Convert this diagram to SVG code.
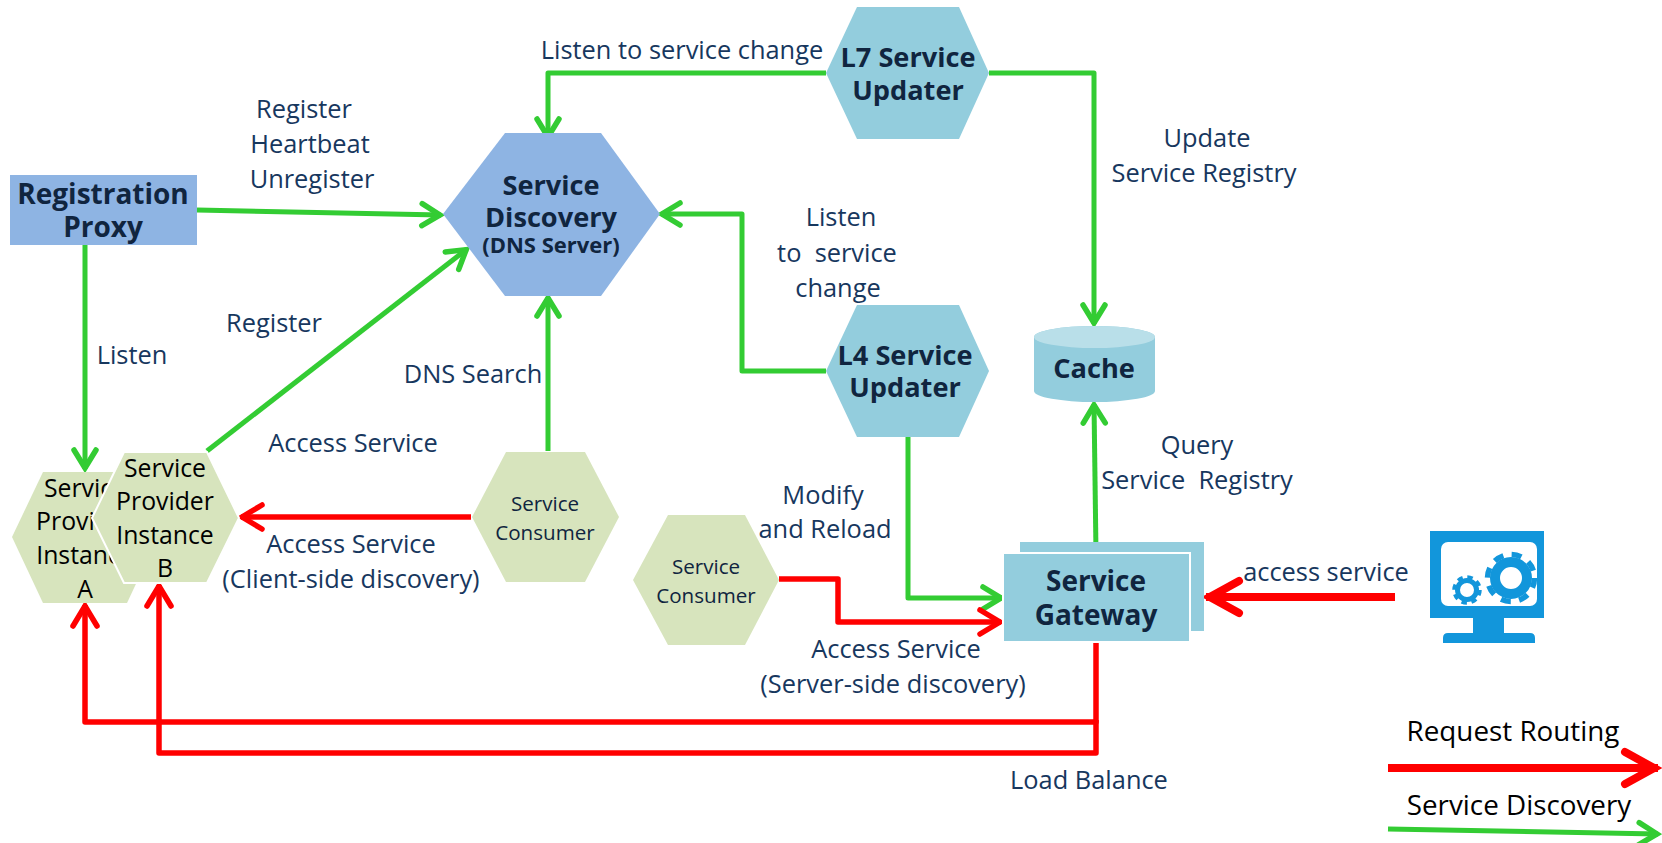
<svg xmlns="http://www.w3.org/2000/svg" width="1662" height="843" viewBox="0 0 1662 843">
<style>
text{font-family:"Open Sans","Noto Sans","DejaVu Sans",sans-serif;text-anchor:middle;white-space:pre}
.l{font-size:25.4px;fill:#17375e}
.k{font-size:24.8px;fill:#000}
.m{font-size:27.8px;fill:#000}
.b{font-size:28px;font-weight:700;fill:#10253f}
.h{font-size:27.2px;font-weight:700;fill:#10253f}
.c{font-size:20.6px;fill:#10253f}
.g{fill:none;stroke:#33cc33;stroke-width:5;stroke-linejoin:round}
.r{fill:none;stroke:#ff0000;stroke-width:5.500;stroke-linejoin:round}
.blue{fill:#8eb4e3}
.teal{fill:#93cddd}
.sage{fill:#d7e4bd}
</style>
<defs>
<marker id="ag" markerUnits="userSpaceOnUse" markerWidth="30" markerHeight="30" refX="26" refY="15" orient="auto"><path d="M7 4L25 15L7 26" fill="none" stroke="#33cc33" stroke-width="5.500" stroke-linecap="round"/></marker>
<marker id="ar" markerUnits="userSpaceOnUse" markerWidth="30" markerHeight="32" refX="27" refY="16" orient="auto"><path d="M6 4L26 16L6 28" fill="none" stroke="#ff0000" stroke-width="5.500" stroke-linecap="round"/></marker>
<marker id="arb" markerUnits="userSpaceOnUse" markerWidth="44" markerHeight="48" refX="40" refY="24" orient="auto"><path d="M7 8L36 24L7 40" fill="none" stroke="#ff0000" stroke-width="8" stroke-linecap="round"/></marker>
</defs>

<g id="connectors">
<path class="g" marker-end="url(#ag)" d="M197 210L441 215"/>
<path class="g" marker-end="url(#ag)" d="M85 245V469"/>
<path class="g" marker-end="url(#ag)" d="M207 451L467 249"/>
<path class="g" marker-end="url(#ag)" d="M548 451V297"/>
<path class="g" marker-end="url(#ag)" d="M826 73H548V138"/>
<path class="g" marker-end="url(#ag)" d="M989 73H1094V324"/>
<path class="g" marker-end="url(#ag)" d="M826 371H742V214H661"/>
<path class="g" marker-end="url(#ag)" d="M908 437V598H1002"/>
<path class="g" marker-end="url(#ag)" d="M1096 553L1094 404"/>
<path class="r" marker-end="url(#ar)" d="M471 517H241"/>
<path class="r" marker-end="url(#ar)" d="M779 579H838V622H1001"/>
<path class="r" style="stroke-width:8" marker-end="url(#arb)" d="M1395 597H1206"/>
<path class="r" marker-end="url(#ar)" d="M1096 642V722H85V605"/>
<path class="r" marker-end="url(#ar)" d="M1096 720V753H159V585"/>
<path class="r" style="stroke-width:8" marker-end="url(#arb)" d="M1388 768H1658"/>
<path class="g" marker-end="url(#ag)" d="M1388 829L1658 834"/>
</g>

<g id="registration-proxy"><rect class="blue" x="10" y="175" width="187" height="70"/>
<text class="b" x="103" y="204">Registration</text><text class="b" x="103" y="237">Proxy</text></g>

<g id="service-discovery"><polygon class="blue" points="443,214 505,133 601,133 660,214 601,296 505,296"/>
<text class="h" x="551" y="195">Service</text><text class="h" x="551" y="227">Discovery</text>
<text x="551" y="253" style="font-size:22px;font-weight:700;fill:#10253f">(DNS Server)</text></g>

<g id="l7-updater"><polygon class="teal" points="826,73 857,7 959,7 989,73 959,139 857,139"/>
<text class="h" x="908" y="67">L7 Service</text><text class="h" x="908" y="100">Updater</text></g>

<g id="l4-updater"><polygon class="teal" points="826,371 857,305 959,305 989,371 959,437 857,437"/>
<text class="h" x="905" y="365">L4 Service</text><text class="h" x="905" y="397">Updater</text></g>

<g id="cache"><path class="teal" d="M1034 337A60.500 11 0 0 1 1155 337V391A60.500 11 0 0 1 1034 391Z"/><ellipse cx="1094.500" cy="337" rx="60.500" ry="11" fill="#b9dfe9"/>
<text class="h" x="1094" y="378">Cache</text></g>

<g id="service-gateway"><rect class="teal" x="1020" y="542" width="184" height="89"/>
<rect class="teal" x="1003" y="553" width="187" height="89" stroke="#fff" stroke-width="2"/>
<text class="b" x="1096" y="591">Service</text><text class="b" x="1096" y="625">Gateway</text></g>

<g id="consumer-1"><polygon class="sage" points="472,517 506,452 585,452 619,517 585,582 506,582"/>
<text class="c" x="545" y="511">Service</text><text class="c" x="545" y="540">Consumer</text></g>

<g id="consumer-2"><polygon class="sage" points="633,580 668,515 745,515 779,580 745,645 668,645"/>
<text class="c" x="706" y="574">Service</text><text class="c" x="706" y="603">Consumer</text></g>

<g id="provider-a"><polygon class="sage" points="12,537 43,472 127,472 158,537 127,603 43,603"/>
<text class="k" x="85" y="497">Service</text><text class="k" x="85" y="530">Provider</text><text class="k" x="85" y="564">Instance</text><text class="k" x="85" y="598">A</text></g>

<g id="provider-b"><polygon class="sage" stroke="#fff" stroke-width="2" points="92,518 124,452 207,452 239,518 207,583 124,583"/>
<text class="k" x="165" y="477">Service</text><text class="k" x="165" y="510">Provider</text><text class="k" x="165" y="544">Instance</text><text class="k" x="165" y="577">B</text></g>

<g id="client-icon">
<rect x="1430" y="531" width="114" height="87" fill="#1296db"/>
<rect x="1441" y="542" width="96" height="64" rx="7" fill="#fff"/>
<path d="M1473 618H1504V633H1530Q1535 633 1535 638V643H1443V638Q1443 633 1448 633H1473Z" fill="#1296db"/>
<circle cx="1511" cy="578" r="16" fill="none" stroke="#1296db" stroke-width="10"/>
<circle cx="1511" cy="578" r="23.500" fill="none" stroke="#1296db" stroke-width="5.500" stroke-dasharray="10 8.450"/>
<circle cx="1467" cy="590" r="9.500" fill="none" stroke="#1296db" stroke-width="5"/>
<circle cx="1467" cy="590" r="13" fill="none" stroke="#1296db" stroke-width="3.500" stroke-dasharray="5.500 4.700"/>
</g>

<g id="labels">
<text class="l" x="682" y="59">Listen to service change</text>
<text class="l" x="304" y="118">Register</text>
<text class="l" x="310" y="153">Heartbeat</text>
<text class="l" x="312" y="188">Unregister</text>
<text class="l" x="274" y="332">Register</text>
<text class="l" x="132" y="364">Listen</text>
<text class="l" x="473" y="383">DNS Search</text>
<text class="l" x="353" y="452">Access Service</text>
<text class="l" x="351" y="553">Access Service</text>
<text class="l" x="351" y="588">(Client-side discovery)</text>
<text class="l" x="841" y="226">Listen</text>
<text class="l" x="837" y="262">to  service</text>
<text class="l" x="838" y="297">change</text>
<text class="l" x="1207" y="147">Update</text>
<text class="l" x="1204" y="182">Service Registry</text>
<text class="l" x="1197" y="454">Query</text>
<text class="l" x="1197" y="489">Service  Registry</text>
<text class="l" x="823" y="504">Modify</text>
<text class="l" x="825" y="538">and Reload</text>
<text class="l" x="1326" y="581">access service</text>
<text class="l" x="896" y="658">Access Service</text>
<text class="l" x="893" y="693">(Server-side discovery)</text>
<text class="l" x="1089" y="789">Load Balance</text>
<text class="m" x="1513" y="741">Request Routing</text>
<text class="m" x="1519" y="815">Service Discovery</text>
</g>
</svg>
